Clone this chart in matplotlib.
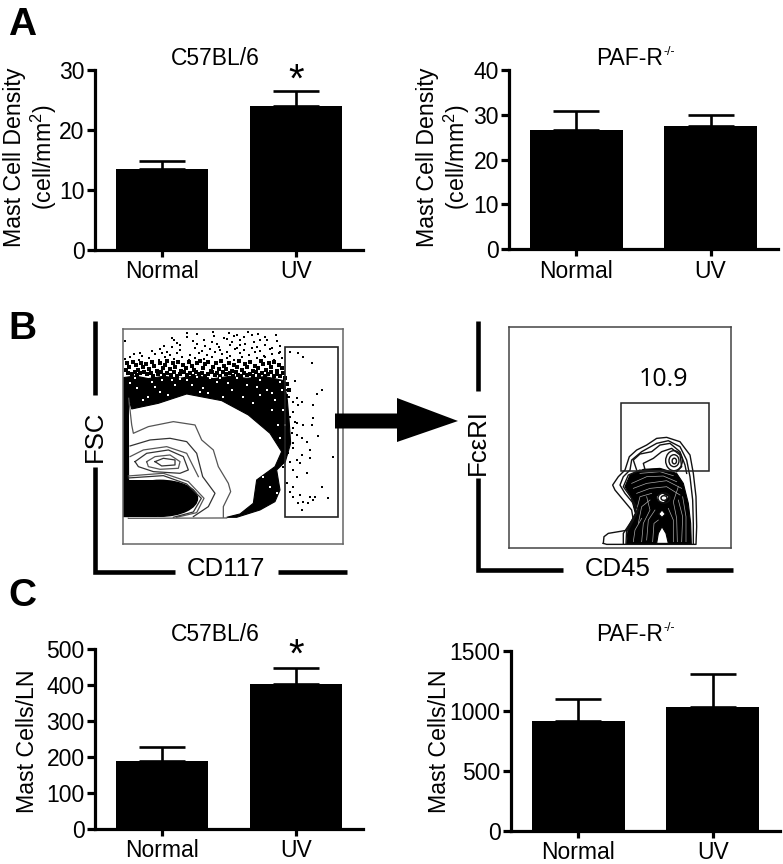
import matplotlib
matplotlib.use("Agg")
import matplotlib.pyplot as plt
from matplotlib.patches import Ellipse, Polygon, Rectangle

W, H = 783, 864
plt.rcParams['font.family'] = ['Liberation Sans', 'DejaVu Sans']
plt.rcParams['mathtext.fontset'] = 'custom'
plt.rcParams['mathtext.rm'] = 'Liberation Sans'
plt.rcParams['mathtext.default'] = 'regular'

categories = ['Normal', 'UV']
a_left_vals = [13.5, 24.0]
a_left_tops = [14.8, 26.5]
a_right_vals = [26.7, 27.5]
a_right_tops = [30.8, 30.0]
c_left_vals = [190, 402]
c_left_tops = [227, 449]
c_right_vals = [915, 1030]
c_right_tops = [1100, 1305]

# Flow plot 1 (read in crop units: CD117 to the right, FSC downward)
sparse_dots = [
    (322, 68), (352, 72), (398, 66), (447, 70), (472, 74), (503, 65), (533, 72), (587, 76), (277, 84), (321, 80), (402, 79),
    (431, 83), (461, 77), (492, 82), (517, 76), (556, 80), (136, 93), (281, 91), (291, 99), (372, 90), (396, 96), (441, 88),
    (456, 95), (481, 90), (521, 97), (561, 89), (590, 94), (251, 107), (277, 112), (351, 103), (376, 109), (411, 101), (451, 106),
    (472, 113), (496, 102), (531, 110), (556, 104), (576, 115), (601, 108), (181, 128), (216, 122), (241, 116), (261, 125), (301, 119),
    (346, 113), (366, 122), (391, 116), (416, 111), (441, 125), (466, 117), (491, 121), (516, 114), (541, 123), (571, 118), (600, 126),
    (161, 133), (186, 139), (226, 131), (246, 128), (271, 136), (291, 129), (331, 134), (356, 128), (381, 135), (406, 127), (426, 132),
    (451, 138), (481, 129), (506, 134), (526, 127), (551, 137), (576, 131), (596, 128), (135, 147), (151, 142), (176, 150), (206, 144),
    (236, 149), (256, 141), (281, 146), (306, 140), (326, 151), (346, 143), (371, 147), (396, 141), (421, 152), (441, 144), (461, 149),
    (486, 141), (511, 152), (531, 145), (556, 140), (581, 150), (605, 143), (420, 120), (300, 105), (340, 92), (480, 105), (540, 90),
]
dense_dots = [
    (140, 160), (148, 172), (160, 155), (167, 166), (175, 180), (183, 158), (190, 171), (198, 162), (206, 178), (215, 156), (222, 168),
    (230, 182), (240, 159), (248, 173), (255, 165), (262, 153), (270, 178), (278, 160), (286, 170), (295, 156), (303, 183), (310, 164),
    (318, 174), (326, 157), (335, 168), (343, 180), (352, 160), (360, 152), (368, 175), (376, 163), (385, 157), (392, 183), (400, 170),
    (408, 160), (416, 178), (424, 152), (431, 167), (439, 176), (447, 158), (455, 182), (463, 165), (471, 172), (478, 154), (486, 180),
    (494, 162), (502, 170), (510, 157), (518, 184), (526, 167), (534, 175), (542, 153), (549, 163), (558, 180), (566, 160), (574, 171),
    (582, 156), (590, 183), (598, 166), (607, 175), (137, 181), (145, 188), (156, 192), (165, 187), (172, 196), (181, 190), (193, 185),
    (202, 193), (212, 188), (220, 197), (233, 191), (243, 186), (252, 195), (261, 189), (273, 194), (283, 187), (292, 198), (301, 192),
    (313, 186), (322, 195), (331, 190), (339, 198), (349, 187), (358, 193), (366, 188), (375, 197), (383, 191), (395, 186), (404, 195),
    (412, 189), (421, 198), (430, 186), (438, 193), (449, 190), (458, 197), (467, 187), (475, 194), (483, 199), (492, 188), (500, 195),
    (509, 191), (520, 198), (529, 187), (538, 195), (546, 190), (555, 199), (564, 192), (572, 187), (581, 197), (592, 191), (601, 199),
    (610, 190), (616, 205), (621, 222), (626, 240), (618, 258),
]
gate_x = [630, 655, 668, 695, 645, 725, 710, 650, 665, 655, 700, 640, 700, 650, 670, 640, 695, 715, 650, 665,
          680, 640, 690, 665, 760, 650, 690, 660, 640, 680, 650, 725, 745, 690, 700, 670, 665, 640, 655, 630,
          640, 620, 705, 685, 660, 620, 628, 640, 615, 630, 645, 625, 610, 635, 620, 640, 625, 615, 630, 610]
gate_y = [125, 130, 140, 158, 212, 240, 253, 265, 275, 285, 285, 305, 325, 340, 345, 355, 345, 378, 375, 385,
          395, 400, 420, 435, 440, 450, 445, 460, 480, 490, 500, 530, 565, 560, 570, 575, 600, 560, 580, 545,
          530, 520, 560, 580, 555, 240, 260, 275, 300, 320, 335, 350, 365, 370, 385, 415, 430, 445, 455, 470]
speck_x = [170, 215, 265, 320, 370, 300, 240, 410, 455, 500, 540, 575, 470, 430, 350, 190, 285, 390, 520, 560, 595, 600, 550, 570,
           590, 150, 205, 245, 335, 385, 445, 490, 530, 585, 605, 610, 600, 575, 615, 540, 165, 225, 275, 360, 420]
speck_y = [235, 215, 255, 210, 235, 207, 245, 215, 240, 225, 255, 300, 205, 260, 202, 270, 225, 205, 280, 240, 345, 385, 500, 530,
           550, 220, 260, 210, 225, 250, 218, 260, 232, 270, 240, 300, 215, 250, 345, 210, 205, 232, 210, 245, 205]
band_outer = [(130, 203), (165, 198), (205, 206), (250, 199), (300, 205), (345, 197), (400, 206), (450, 199), (500, 205), (555, 200),
              (612, 212), (622, 270), (628, 340), (632, 400), (616, 455), (590, 480), (600, 540), (585, 575), (540, 600), (470, 622),
              (440, 622), (480, 612), (520, 580), (530, 510), (585, 470), (605, 425), (570, 370), (505, 315), (425, 272), (320, 252),
              (235, 280), (155, 297), (145, 262), (146, 620), (130, 620)]
fsc_lines = [
    [(146, 265), (155, 345), (160, 370), (205, 350), (280, 335), (345, 345), (365, 390), (400, 420), (415, 470), (445, 520), (452, 545), (430, 590), (430, 622)],
    [(150, 408), (210, 390), (270, 385), (320, 395), (350, 430), (368, 500), (405, 550), (385, 590), (340, 620)],
    [(150, 440), (190, 420), (260, 410), (320, 430), (345, 480), (355, 500)],
    [(165, 455), (200, 430), (265, 420), (310, 440), (325, 480), (300, 490), (220, 485), (175, 470), (165, 455)],
    [(200, 455), (225, 440), (270, 435), (300, 455), (295, 475), (240, 478), (205, 470), (200, 455)],
    [(225, 455), (250, 445), (285, 450), (285, 465), (245, 468), (225, 455)],
    [(145, 498), (250, 490), (325, 515), (372, 565), (350, 608), (290, 622)],
    [(145, 504), (250, 497), (320, 522), (364, 565), (340, 606), (280, 622)],
    [(145, 625), (440, 624)],
]
# Flow plot 2 (crop units)
fc_lines = [
    [(430, 700), (432, 680), (445, 670), (475, 665), (505, 660), (520, 630), (515, 600), (490, 570), (465, 540), (458, 525), (475, 500), (495, 480), (508, 440), (530, 420), (560, 405), (590, 385), (620, 382), (660, 395), (690, 435), (700, 490), (708, 560), (710, 650), (708, 703), (440, 703), (430, 700)],
    [(490, 700), (490, 670), (510, 640), (530, 610), (520, 580), (495, 550), (480, 525), (490, 500), (510, 480), (515, 450), (545, 425), (590, 400), (625, 392), (660, 410), (680, 450), (690, 500), (698, 570), (700, 640), (700, 700)],
    [(530, 480), (520, 450), (540, 432), (575, 425), (600, 405), (630, 400), (660, 425), (675, 465), (680, 490)],
    [(555, 478), (550, 460), (580, 445), (605, 425), (635, 415), (660, 435), (665, 470), (650, 485)],
    [(498, 700), (500, 660), (520, 630), (535, 600), (515, 565), (490, 530), (505, 495), (540, 480)],
]
fc_core = [(500, 703), (505, 650), (526, 610), (513, 560), (495, 530), (510, 495), (550, 478), (600, 475), (650, 490), (670, 520), (685, 580), (692, 640), (694, 703)]
fc_holes = [[(590, 700), (595, 670), (606, 650), (618, 670), (625, 700)],
            [(596, 612), (606, 600), (616, 612), (606, 622)],
            [(588, 560), (605, 548), (628, 560), (612, 578), (595, 575)]]
fc_white = [
    [(515, 520), (560, 500), (610, 498), (650, 515)],
    [(530, 550), (570, 535), (620, 530), (660, 555)],
    [(535, 640), (545, 590), (570, 570)],
    [(560, 690), (565, 630), (585, 600)],
    [(640, 695), (640, 630), (625, 595)],
    [(665, 695), (668, 620), (655, 570)],
    [(520, 695), (525, 660), (545, 625)],
    [(540, 490), (600, 485), (640, 497)],
    [(545, 695), (550, 640), (570, 600), (560, 560)],
    [(578, 695), (582, 640), (595, 630)],
    [(652, 695), (650, 625), (640, 575), (655, 530)],
    [(678, 695), (678, 620), (668, 560)],
    [(520, 535), (560, 520), (620, 512), (665, 535)],
    [(530, 600), (540, 560), (575, 550)],
]
fc_rings = [(642, 452, 50, 60), (642, 452, 30, 36), (643, 453, 13, 17), (612, 564, 36, 30), (612, 564, 18, 14)]


def px_axes(l, t, r, b):
    return fig.add_axes([l / W, 1 - b / H, (r - l) / W, (b - t) / H])


def bar_panel(box, vals, tops, ymax, ticks, star_y=None):
    ax = px_axes(*box)
    xs = range(len(categories))
    ax.bar(xs, vals, width=0.69, color='black', zorder=2)
    ax.errorbar(xs, vals, yerr=[[0, 0], [t - v for t, v in zip(tops, vals)]], fmt='none', ecolor='black',
                elinewidth=1.9, capsize=16.8, capthick=1.9, zorder=1)
    ax.set_xlim(-0.5, 1.5)
    ax.set_ylim(0, ymax)
    ax.set_xticks(list(xs), categories)
    ax.set_yticks(ticks)
    ax.tick_params(axis='y', width=2.3, length=6, labelsize=16.5, pad=1.5)
    ax.tick_params(axis='x', width=2.3, length=5, labelsize=16.5, pad=2.5)
    for s in ('top', 'right'):
        ax.spines[s].set_visible(False)
    for s in ('left', 'bottom'):
        ax.spines[s].set_linewidth(2.3)
    ax.patch.set_alpha(0)
    if star_y is not None:
        ax.text(1, star_y, '*', ha='center', va='center', fontsize=29)
    return ax


fig = plt.figure(figsize=(W / 100, H / 100), dpi=100, facecolor='white')

bar_panel((95, 70, 363, 249.7), a_left_vals, a_left_tops, 30, [0, 10, 20, 30], 28.2)
bar_panel((509.3, 70, 777.7, 249.3), a_right_vals, a_right_tops, 40, [0, 10, 20, 30, 40])
bar_panel((95, 649.3, 363, 828.7), c_left_vals, c_left_tops, 500, [0, 100, 200, 300, 400, 500], 483)
bar_panel((511, 650.7, 780, 830.7), c_right_vals, c_right_tops, 1500, [0, 500, 1000, 1500])

# Flow plot 1
f1 = px_axes(122.7, 329.3, 343.3, 544.3)
f1.set_xlim(128, 790)
f1.set_ylim(703, 58)
f1.add_patch(Polygon(band_outer, closed=True, fc='black', ec='black', lw=0.8, zorder=1))
f1.add_patch(Ellipse((240, 565), 225, 108, fc='black', ec='black', zorder=2))
f1.add_patch(Rectangle((130, 510), 100, 110, fc='black', ec='none', zorder=2))
f1.scatter(*zip(*sparse_dots), s=3.4, marker='s', c='black', linewidths=0, zorder=3)
f1.scatter(*zip(*dense_dots), s=5.0, marker='s', c='black', linewidths=0, zorder=3)
f1.scatter(gate_x, gate_y, s=3.0, marker='s', c='black', linewidths=0, zorder=3)
f1.scatter(speck_x, speck_y, s=2.6, marker='s', c='white', linewidths=0, zorder=4)
for i, line in enumerate(fsc_lines):
    f1.plot(*zip(*line), color='#333333' if i % 2 else '#555555', lw=0.9, zorder=3)
f1.add_patch(Rectangle((616, 112), 157, 508, fc='none', ec='#222222', lw=1.2, zorder=5))
f1.set_xticks([])
f1.set_yticks([])
for s in f1.spines.values():
    s.set_color('#666666')
    s.set_linewidth(1.1)

# Flow plot 2
f2 = px_axes(509.3, 326.7, 731, 547.7)
f2.set_xlim(148, 813)
f2.set_ylim(713, 50)
f2.add_patch(Polygon(fc_core, closed=True, fc='black', ec='black', lw=0.8, zorder=1))
for hole in fc_holes:
    f2.add_patch(Polygon(hole, closed=True, fc='white', ec='black', lw=0.8, zorder=2))
for line in fc_white:
    f2.plot(*zip(*line), color='#aaaaaa', lw=0.5, zorder=2)
for line in fc_lines:
    f2.plot(*zip(*line), color='#111111', lw=1.0, zorder=3)
for x, y, w, h in fc_rings:
    f2.add_patch(Ellipse((x, y), w, h, fc='none', ec='#111111', lw=1.0, zorder=3))
f2.add_patch(Rectangle((482, 278), 264, 205, fc='none', ec='#222222', lw=1.1, zorder=5))
f2.text(612, 208, '10.9', ha='center', va='center', fontsize=18, family=['Open Sans', 'DejaVu Sans'])
f2.set_xticks([])
f2.set_yticks([])
for s in f2.spines.values():
    s.set_color('#444444')
    s.set_linewidth(1.1)

# Overlay in pixel space: axis decorations and labels
ov = fig.add_axes([0, 0, 1, 1], zorder=10)
ov.set_xlim(0, W)
ov.set_ylim(H, 0)
ov.axis('off')
ov.patch.set_alpha(0)
LW = 3.3
for xs_, ys_ in [((94.7, 94.7), (320.7, 395)),
                 ((94.7, 94.7, 175), (466.7, 571.5, 571.5)),
                 ((278, 346.7), (571.5, 571.5)),
                 ((478.3, 478.3), (320.7, 390.7)),
                 ((478.3, 478.3, 563), (478, 569.5, 569.5)),
                 ((666, 732.7), (569.5, 569.5))]:
    ov.plot(xs_, ys_, color='black', lw=LW, solid_capstyle='butt', solid_joinstyle='miter')
ov.add_patch(Polygon([(335, 413.5), (397, 413.5), (397, 398), (458, 421), (397, 442), (397, 428.5), (335, 428.5)],
                     closed=True, fc='black', ec='none'))
ov.text(95, 436, 'FSC', rotation=90, ha='center', va='center', fontsize=18.5)
ov.text(478, 442, 'FcεRI', rotation=90, ha='center', va='center', fontsize=18.5)
ov.text(225.7, 569, 'CD117', ha='center', va='center', fontsize=18.5)
ov.text(618, 569, 'CD45', ha='center', va='center', fontsize=18.5)

for s, x, y in [('A', 8, 35), ('B', 8, 339), ('C', 8, 606)]:
    ov.text(x, y, s, fontsize=28, fontweight='bold', ha='left', va='baseline')
for s, x, y in [('C57BL/6', 215.7, 65), ('C57BL/6', 215.7, 640.7)]:
    ov.text(x, y, s, fontsize=16.5, ha='center', va='baseline')
for y in (65, 640.7):
    ov.text(663, y, 'PAF-R', fontsize=16.5, ha='right', va='baseline')
    ov.text(664, y - 10, '-/-', fontsize=9, ha='left', va='baseline')
ov.text(31, 157, 'Mast Cell Density\n(cell/mm$^2$)', rotation=90, fontsize=16.7, ha='center', va='center', linespacing=1.1)
ov.text(444, 157, 'Mast Cell Density\n(cell/mm$^2$)', rotation=90, fontsize=16.7, ha='center', va='center', linespacing=1.1)
ov.text(28, 741.7, 'Mast Cells/LN', rotation=90, fontsize=16.7, ha='center', va='center')
ov.text(439, 741.7, 'Mast Cells/LN', rotation=90, fontsize=16.7, ha='center', va='center')

fig.savefig('out.png', dpi=100)
